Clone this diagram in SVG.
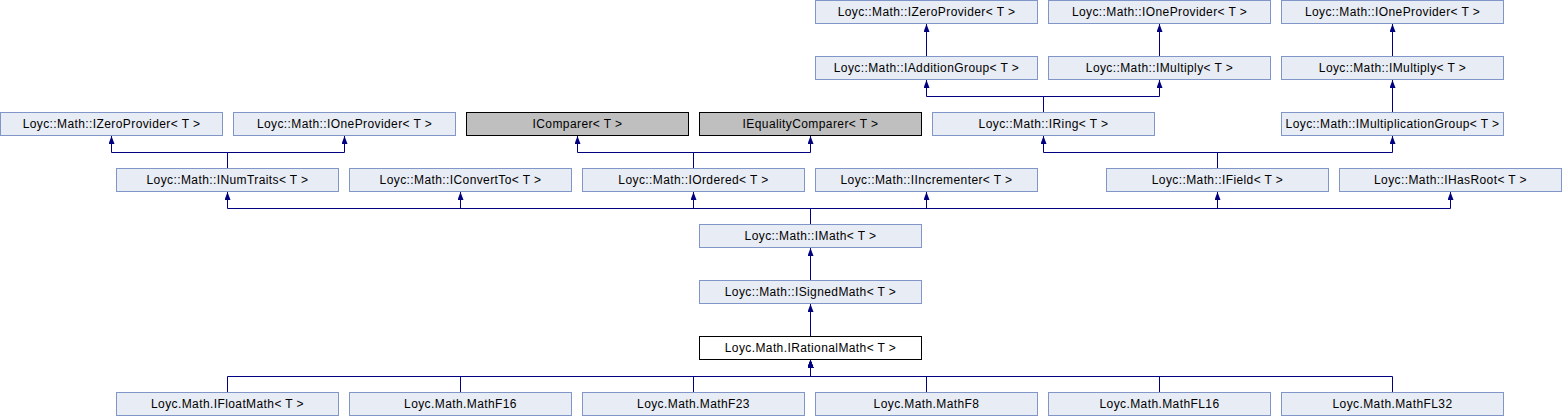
<svg xmlns="http://www.w3.org/2000/svg" width="1562" height="416" viewBox="0 0 1562 416">
<style>
.n rect{fill:#E8ECF5;stroke:#8095C8;stroke-width:1}
.n.g rect{fill:#BFBFBF;stroke:#000}
.n.w rect{fill:#fff;stroke:#000}
.n text{font-family:"Liberation Sans",Arial,sans-serif;font-size:12px;letter-spacing:0.4px;fill:#000;text-anchor:middle}
#edges path{fill:none;stroke:#000080;stroke-width:1;marker-end:url(#ah)}
</style>
<defs>
<marker id="ah" viewBox="0 0 8 6" refX="8" refY="3" markerWidth="8" markerHeight="6" markerUnits="userSpaceOnUse" orient="auto">
<path d="M0,0 L8,3 L0,6 z" fill="#000080"/>
</marker>
</defs>
<rect width="1562" height="416" fill="#fff"/>
<g id="edges">
<path d="M926.5,56 V24"/>
<path d="M1159.5,56 V24"/>
<path d="M1392.5,56 V24"/>
<path d="M1043.5,112 V96.5 H926.5 V80"/>
<path d="M1043.5,112 V96.5 H1159.5 V80"/>
<path d="M1392.5,112 V80"/>
<path d="M227.5,168 V152.5 H111.5 V136"/>
<path d="M227.5,168 V152.5 H344.5 V136"/>
<path d="M693.5,168 V152.5 H577.5 V136"/>
<path d="M693.5,168 V152.5 H810.5 V136"/>
<path d="M1217.5,168 V152.5 H1043.5 V136"/>
<path d="M1217.5,168 V152.5 H1392.5 V136"/>
<path d="M810.5,224 V208.5 H227.5 V192"/>
<path d="M810.5,224 V208.5 H460.5 V192"/>
<path d="M810.5,224 V208.5 H693.5 V192"/>
<path d="M810.5,224 V208.5 H926.5 V192"/>
<path d="M810.5,224 V208.5 H1217.5 V192"/>
<path d="M810.5,224 V208.5 H1450.5 V192"/>
<path d="M810.5,280 V248"/>
<path d="M810.5,336 V304"/>
<path d="M227.5,392 V376.5 H810.5 V360"/>
<path d="M460.5,392 V376.5 H810.5 V360"/>
<path d="M693.5,392 V376.5 H810.5 V360"/>
<path d="M926.5,392 V376.5 H810.5 V360"/>
<path d="M1159.5,392 V376.5 H810.5 V360"/>
<path d="M1392.5,392 V376.5 H810.5 V360"/>
</g>
<g id="zero1" class="n"><rect x="815.5" y="0.5" width="222" height="23"/><text x="926.5" y="16">Loyc::Math::IZeroProvider&lt; T &gt;</text></g>
<g id="one1" class="n"><rect x="1048.5" y="0.5" width="222" height="23"/><text x="1159.5" y="16">Loyc::Math::IOneProvider&lt; T &gt;</text></g>
<g id="one2" class="n"><rect x="1281.5" y="0.5" width="222" height="23"/><text x="1392.5" y="16">Loyc::Math::IOneProvider&lt; T &gt;</text></g>
<g id="addgroup" class="n"><rect x="815.5" y="56.5" width="222" height="23"/><text x="926.5" y="72">Loyc::Math::IAdditionGroup&lt; T &gt;</text></g>
<g id="mult1" class="n"><rect x="1048.5" y="56.5" width="222" height="23"/><text x="1159.5" y="72">Loyc::Math::IMultiply&lt; T &gt;</text></g>
<g id="mult2" class="n"><rect x="1281.5" y="56.5" width="222" height="23"/><text x="1392.5" y="72">Loyc::Math::IMultiply&lt; T &gt;</text></g>
<g id="zero2" class="n"><rect x="0.5" y="112.5" width="222" height="23"/><text x="111.5" y="128">Loyc::Math::IZeroProvider&lt; T &gt;</text></g>
<g id="one3" class="n"><rect x="233.5" y="112.5" width="222" height="23"/><text x="344.5" y="128">Loyc::Math::IOneProvider&lt; T &gt;</text></g>
<g id="icomparer" class="n g"><rect x="466.5" y="112.5" width="222" height="23"/><text x="577.5" y="128">IComparer&lt; T &gt;</text></g>
<g id="iequality" class="n g"><rect x="699.5" y="112.5" width="222" height="23"/><text x="810.5" y="128">IEqualityComparer&lt; T &gt;</text></g>
<g id="iring" class="n"><rect x="932.5" y="112.5" width="222" height="23"/><text x="1043.5" y="128">Loyc::Math::IRing&lt; T &gt;</text></g>
<g id="imulgroup" class="n"><rect x="1281.5" y="112.5" width="222" height="23"/><text x="1392.5" y="128">Loyc::Math::IMultiplicationGroup&lt; T &gt;</text></g>
<g id="inumtraits" class="n"><rect x="116.5" y="168.5" width="222" height="23"/><text x="227.5" y="184">Loyc::Math::INumTraits&lt; T &gt;</text></g>
<g id="iconvertto" class="n"><rect x="349.5" y="168.5" width="222" height="23"/><text x="460.5" y="184">Loyc::Math::IConvertTo&lt; T &gt;</text></g>
<g id="iordered" class="n"><rect x="582.5" y="168.5" width="222" height="23"/><text x="693.5" y="184">Loyc::Math::IOrdered&lt; T &gt;</text></g>
<g id="iincrementer" class="n"><rect x="815.5" y="168.5" width="222" height="23"/><text x="926.5" y="184">Loyc::Math::IIncrementer&lt; T &gt;</text></g>
<g id="ifield" class="n"><rect x="1106.5" y="168.5" width="222" height="23"/><text x="1217.5" y="184">Loyc::Math::IField&lt; T &gt;</text></g>
<g id="ihasroot" class="n"><rect x="1339.5" y="168.5" width="222" height="23"/><text x="1450.5" y="184">Loyc::Math::IHasRoot&lt; T &gt;</text></g>
<g id="imath" class="n"><rect x="699.5" y="224.5" width="222" height="23"/><text x="810.5" y="240">Loyc::Math::IMath&lt; T &gt;</text></g>
<g id="isignedmath" class="n"><rect x="699.5" y="280.5" width="222" height="23"/><text x="810.5" y="296">Loyc::Math::ISignedMath&lt; T &gt;</text></g>
<g id="irationalmath" class="n w"><rect x="699.5" y="336.5" width="222" height="23"/><text x="810.5" y="352">Loyc.Math.IRationalMath&lt; T &gt;</text></g>
<g id="ifloatmath" class="n"><rect x="116.5" y="392.5" width="222" height="23"/><text x="227.5" y="408">Loyc.Math.IFloatMath&lt; T &gt;</text></g>
<g id="mathf16" class="n"><rect x="349.5" y="392.5" width="222" height="23"/><text x="460.5" y="408">Loyc.Math.MathF16</text></g>
<g id="mathf23" class="n"><rect x="582.5" y="392.5" width="222" height="23"/><text x="693.5" y="408">Loyc.Math.MathF23</text></g>
<g id="mathf8" class="n"><rect x="815.5" y="392.5" width="222" height="23"/><text x="926.5" y="408">Loyc.Math.MathF8</text></g>
<g id="mathfl16" class="n"><rect x="1048.5" y="392.5" width="222" height="23"/><text x="1159.5" y="408">Loyc.Math.MathFL16</text></g>
<g id="mathfl32" class="n"><rect x="1281.5" y="392.5" width="222" height="23"/><text x="1392.5" y="408">Loyc.Math.MathFL32</text></g>
</svg>
